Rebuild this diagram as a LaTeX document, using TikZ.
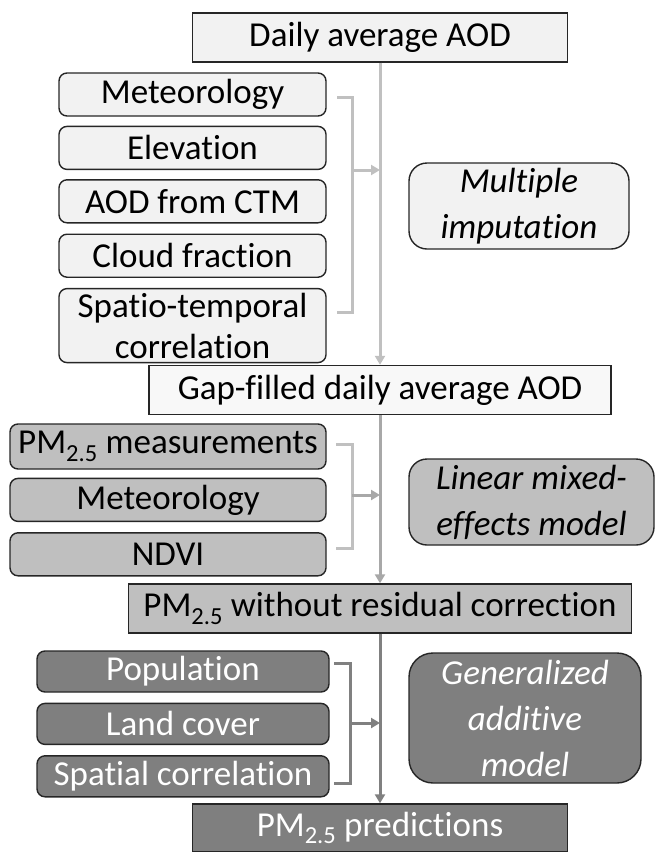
\documentclass[tikz,border=0pt]{standalone}
\usepackage{fontspec}
\setmainfont{Carlito}[Ligatures=NoCommon]
\usepackage{tikz}
\usetikzlibrary{arrows.meta,positioning}
\definecolor{FlowLight}{HTML}{F2F2F2}
\definecolor{FlowPale}{HTML}{F8F8F8}
\definecolor{FlowMid}{HTML}{BFBFBF}
\definecolor{FlowDark}{HTML}{7F7F7F}
\definecolor{FlowEdge}{HTML}{262626}
\definecolor{FlowLineA}{HTML}{C0C0C0}
\definecolor{FlowLineB}{HTML}{A8A8A8}
\definecolor{FlowLineC}{HTML}{808080}

\begin{document}
\begin{tikzpicture}[
  x=1pt,y=1pt,
  box/.style={draw=FlowEdge,line width=1.4pt,minimum height=49pt,inner sep=0pt,align=center,font=\fontsize{35}{41}\selectfont},
  factor/.style={box,rounded corners=8pt,minimum height=43pt},
  method/.style={box,rounded corners=18pt,minimum height=86pt,font=\fontsize{35}{46}\selectfont\itshape},
  light/.style={fill=FlowLight},
  pale/.style={fill=FlowPale},
  mid/.style={fill=FlowMid},
  dark/.style={fill=FlowDark,text=white},
  flow/.style={line width=3pt,-{Triangle[length=9pt,width=10pt]}},
  brace/.style={line width=3pt},
]
\useasboundingbox (0,0) rectangle (655,-852);
\clip (0,0) rectangle (655,-852);

\node[box,light,minimum width=375pt] (aod) at (380,-37.5) {Daily average AOD};
\node[box,pale,minimum width=462pt] (gapfill) at (380,-390) {Gap-filled daily average AOD};
\node[box,mid,minimum width=503pt] (pmraw) at (380,-608.5) {PM\textsubscript{2.5} without residual correction};
\node[box,dark,minimum width=375pt,minimum height=48pt] (pmpred) at (380,-828) {PM\textsubscript{2.5} predictions};

\node[factor,light,minimum width=267pt] (metA) at (192.5,-94.5) {Meteorology};
\node[factor,light,minimum width=267pt,below=9pt of metA] (elev) {Elevation};
\node[factor,light,minimum width=267pt,below=9pt of elev] (ctm) {AOD from CTM};
\node[factor,light,minimum width=267pt,below=10pt of ctm] (cloud) {Cloud fraction};
\node[factor,light,minimum width=267pt,minimum height=74pt,below=10pt of cloud] (stcorr) {Spatio-temporal\\correlation};

\node[factor,mid,minimum width=316pt,minimum height=45pt] (pmmeas) at (168,-446.5) {PM\textsubscript{2.5} measurements};
\node[factor,mid,minimum width=316pt,below=8pt of pmmeas] (metB) {Meteorology};
\node[factor,mid,minimum width=316pt,below=10pt of metB] (ndvi) {NDVI};

\node[factor,dark,minimum width=292pt,minimum height=41pt] (popul) at (183,-671.5) {Population};
\node[factor,dark,minimum width=292pt,minimum height=41pt,below=10pt of popul] (landc) {Land cover};
\node[factor,dark,minimum width=292pt,minimum height=41pt,below=10pt of landc] (spcorr) {Spatial correlation};

\node[method,light,minimum width=220pt] (mimp) at (519,-206) {Multiple\\imputation};
\node[method,mid,minimum width=245pt] (lme) at (531.5,-502) {Linear mixed-\\effects model};
\node[method,dark,minimum width=232pt,minimum height=130pt,rounded corners=24pt] (gam) at (525,-718) {Generalized\\additive\\model};

\draw[flow,FlowLineA] (aod) -- (gapfill);
\draw[flow,FlowLineB] (gapfill) -- (pmraw);
\draw[flow,FlowLineC] (pmraw) -- (pmpred);

\coordinate (braceA) at (337,-97);
\coordinate (braceAend) at (337,-312);
\coordinate (feedA) at (352,-170);
\draw[brace,FlowLineA] (braceA) -- ++(15,0) |- (braceAend);
\draw[flow,FlowLineA] (feedA) -- (feedA -| aod.south);

\coordinate (braceB) at (336,-444);
\coordinate (braceBend) at (336,-548);
\coordinate (feedB) at (352,-495);
\draw[brace,FlowLineA] (braceB) -- ++(16,0) |- (braceBend);
\draw[flow,FlowLineB] (feedB) -- (feedB -| gapfill.south);

\coordinate (braceC) at (334,-663);
\coordinate (braceCend) at (334,-783);
\coordinate (feedC) at (350,-723);
\draw[brace,FlowLineC] (braceC) -- ++(16,0) |- (braceCend);
\draw[flow,FlowLineC] (feedC) -- (feedC -| pmraw.south);
\end{tikzpicture}
\end{document}
